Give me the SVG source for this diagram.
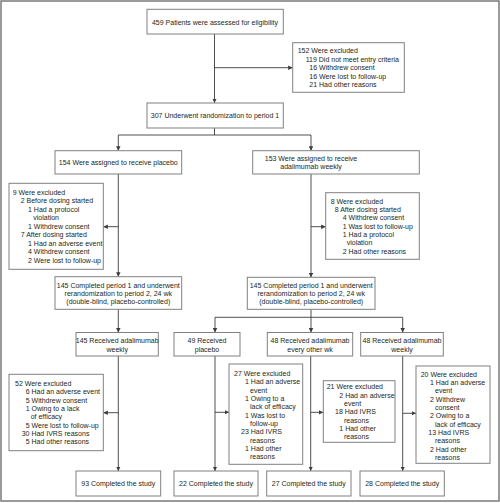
<svg xmlns="http://www.w3.org/2000/svg" width="500" height="503" viewBox="0 0 500 503">
<defs>
<style>
.box{fill:#fff;stroke:#808080;stroke-width:1}
.ln{fill:none;stroke:#3c3c3c;stroke-width:0.9}
text{font-family:"Liberation Sans",Arial,sans-serif;font-size:7px;fill:#231f20}
.c{text-anchor:middle}
</style>
<marker id="ah" viewBox="0 0 6 6" refX="6" refY="3" markerWidth="4.5" markerHeight="4.5" orient="auto" markerUnits="userSpaceOnUse">
<path d="M0,0 L6,3 L0,6 Z" fill="#3c3c3c"/>
</marker>
</defs>
<rect x="0" y="0" width="500" height="503" fill="#fff"/>
<rect x="1" y="1" width="498" height="500" fill="none" stroke="#7a7a7a" stroke-width="1.5"/>

<g id="connectors">
<line class="ln" x1="214.5" y1="34" x2="214.5" y2="103" marker-end="url(#ah)"/>
<line class="ln" x1="214.5" y1="67.7" x2="292.7" y2="67.7" marker-end="url(#ah)"/>
<polyline class="ln" points="214.5,128 214.5,135"/>
<line class="ln" x1="118.3" y1="135" x2="311" y2="135"/>
<line class="ln" x1="118.3" y1="135" x2="118.3" y2="150.7" marker-end="url(#ah)"/>
<line class="ln" x1="311" y1="135" x2="311" y2="150.7" marker-end="url(#ah)"/>
<line class="ln" x1="118.3" y1="174" x2="118.3" y2="276.7" marker-end="url(#ah)"/>
<line class="ln" x1="118.3" y1="226.7" x2="103.3" y2="226.7" marker-end="url(#ah)"/>
<line class="ln" x1="311" y1="174" x2="311" y2="277.3" marker-end="url(#ah)"/>
<line class="ln" x1="311" y1="226.7" x2="325.7" y2="226.7" marker-end="url(#ah)"/>
<line class="ln" x1="118.3" y1="309.3" x2="118.3" y2="332.5" marker-end="url(#ah)"/>
<line class="ln" x1="311" y1="309.3" x2="311" y2="317.3"/>
<line class="ln" x1="215" y1="317.3" x2="402.7" y2="317.3"/>
<line class="ln" x1="215" y1="317.3" x2="215" y2="332.5" marker-end="url(#ah)"/>
<line class="ln" x1="311" y1="317.3" x2="311" y2="332.5" marker-end="url(#ah)"/>
<line class="ln" x1="402.7" y1="317.3" x2="402.7" y2="332.5" marker-end="url(#ah)"/>
<line class="ln" x1="118.3" y1="356" x2="118.3" y2="471" marker-end="url(#ah)"/>
<line class="ln" x1="118.3" y1="412.7" x2="103.3" y2="412.7" marker-end="url(#ah)"/>
<line class="ln" x1="215" y1="356" x2="215" y2="471" marker-end="url(#ah)"/>
<line class="ln" x1="215" y1="412.3" x2="229" y2="412.3" marker-end="url(#ah)"/>
<line class="ln" x1="310.7" y1="356" x2="310.7" y2="471" marker-end="url(#ah)"/>
<line class="ln" x1="310.7" y1="412.3" x2="323.3" y2="412.3" marker-end="url(#ah)"/>
<line class="ln" x1="402.7" y1="356" x2="402.7" y2="471" marker-end="url(#ah)"/>
<line class="ln" x1="402.7" y1="413.3" x2="416" y2="413.3" marker-end="url(#ah)"/>
</g>

<g id="n-assessed">
<rect class="box" x="147" y="9.3" width="136.3" height="24.7"/>
<text class="c" x="215" y="25">459 Patients were assessed for eligibility</text>
</g>

<g id="n-excl1">
<rect class="box" x="292.7" y="42.7" width="111.6" height="49.6"/>
<text x="297.7" y="53.2">152 Were excluded</text>
<text x="305.7" y="61.8">119 Did not meet entry criteria</text>
<text x="309.3" y="70.2">16 Withdrew consent</text>
<text x="309.3" y="78.5">16 Were lost to follow-up</text>
<text x="309.3" y="86.8">21 Had other reasons</text>
</g>

<g id="n-rand">
<rect class="box" x="147" y="103" width="136.3" height="25"/>
<text class="c" x="215" y="117.8">307 Underwent randomization to period 1</text>
</g>

<g id="n-placebo">
<rect class="box" x="55" y="150.7" width="126.7" height="23.3"/>
<text class="c" x="118.3" y="165">154 Were assigned to receive placebo</text>
</g>

<g id="n-adaw">
<rect class="box" x="252.7" y="150.7" width="166.6" height="23.3"/>
<text class="c" x="311" y="160.8">153 Were assigned to receive</text>
<text class="c" x="311" y="169.2">adalimumab weekly</text>
</g>

<g id="n-excl-left1">
<rect class="box" x="9" y="183.3" width="94.3" height="86"/>
<text x="12.7" y="194.8">9 Were excluded</text>
<text x="20.7" y="203.3">2 Before dosing started</text>
<text x="28" y="211.8">1 Had a protocol</text>
<text x="33.3" y="220.3">violation</text>
<text x="28" y="228.8">1 Withdrew consent</text>
<text x="20.7" y="237.2">7 After dosing started</text>
<text x="28" y="245.7">1 Had an adverse event</text>
<text x="28" y="254.2">4 Withdrew consent</text>
<text x="28" y="262.6">2 Were lost to follow-up</text>
</g>

<g id="n-excl-right1">
<rect class="box" x="325.7" y="192.7" width="93.6" height="66.6"/>
<text x="330.7" y="203.5">8 Were excluded</text>
<text x="334.7" y="211.8">8 After dosing started</text>
<text x="342.7" y="220.2">4 Withdrew consent</text>
<text x="342.7" y="228.5">1 Was lost to follow-up</text>
<text x="342.7" y="236.8">1 Had a protocol</text>
<text x="346.7" y="245.2">violation</text>
<text x="342.7" y="253.5">2 Had other reasons</text>
</g>

<g id="n-comp-left">
<rect class="box" x="55" y="276.7" width="126.7" height="32.6"/>
<text class="c" x="118.3" y="287.5">145 Completed period 1 and underwent</text>
<text class="c" x="118.3" y="295.8">rerandomization to period 2, 24 wk</text>
<text class="c" x="118.3" y="304.2">(double-blind, placebo-controlled)</text>
</g>

<g id="n-comp-right">
<rect class="box" x="247.3" y="277.3" width="127.7" height="32"/>
<text class="c" x="311.2" y="287.5">145 Completed period 1 and underwent</text>
<text class="c" x="311.2" y="295.8">rerandomization to period 2, 24 wk</text>
<text class="c" x="311.2" y="304.2">(double-blind, placebo-controlled)</text>
</g>

<g id="n-recv-145">
<rect class="box" x="76" y="332.5" width="82.3" height="23.5"/>
<text class="c" x="117.2" y="343.2">145 Received adalimumab</text>
<text class="c" x="117.2" y="351.5">weekly</text>
</g>

<g id="n-recv-49">
<rect class="box" x="174" y="332.5" width="66" height="23.5"/>
<text class="c" x="207" y="343.2">49 Received</text>
<text class="c" x="207" y="351.5">placebo</text>
</g>

<g id="n-recv-48eow">
<rect class="box" x="267.3" y="332.5" width="85.4" height="23.5"/>
<text class="c" x="310" y="343.2">48 Received adalimumab</text>
<text class="c" x="310" y="351.5">every other wk</text>
</g>

<g id="n-recv-48w">
<rect class="box" x="360.7" y="332.5" width="82.6" height="23.5"/>
<text class="c" x="402" y="343.2">48 Received adalimumab</text>
<text class="c" x="402" y="351.5">weekly</text>
</g>

<g id="n-excl-52">
<rect class="box" x="9" y="374.3" width="94.3" height="76.4"/>
<text x="15" y="385.8">52 Were excluded</text>
<text x="25.7" y="394.2">6 Had an adverse event</text>
<text x="25.7" y="402.5">5 Withdrew consent</text>
<text x="25.7" y="410.8">1 Owing to a lack</text>
<text x="30.7" y="419.2">of efficacy</text>
<text x="25.7" y="427.5">5 Were lost to follow-up</text>
<text x="21.7" y="435.8">30 Had IVRS reasons</text>
<text x="25.7" y="444.2">5 Had other reasons</text>
</g>

<g id="n-excl-27">
<rect class="box" x="229" y="364" width="73.7" height="100.3"/>
<text x="234" y="375.8">27 Were excluded</text>
<text x="245" y="384.2">1 Had an adverse</text>
<text x="250" y="392.5">event</text>
<text x="245" y="400.8">1 Owing to a</text>
<text x="250" y="409.2">lack of efficacy</text>
<text x="245" y="417.5">1 Was lost to</text>
<text x="250" y="425.8">follow-up</text>
<text x="241" y="434.2">23 Had IVRS</text>
<text x="250" y="442.5">reasons</text>
<text x="245" y="450.8">1 Had other</text>
<text x="250" y="459.2">reasons</text>
</g>

<g id="n-excl-21">
<rect class="box" x="323.3" y="380.7" width="71.7" height="61.6"/>
<text x="326.7" y="389.2">21 Were excluded</text>
<text x="339.3" y="397.5">2 Had an adverse</text>
<text x="344" y="405.8">event</text>
<text x="335" y="414.2">18 Had IVRS</text>
<text x="344" y="422.5">reasons</text>
<text x="339.3" y="430.8">1 Had other</text>
<text x="344" y="439.2">reasons</text>
</g>

<g id="n-excl-20">
<rect class="box" x="416" y="366" width="74" height="97.3"/>
<text x="420.7" y="376.5">20 Were excluded</text>
<text x="430" y="384.8">1 Had an adverse</text>
<text x="435" y="393.2">event</text>
<text x="430" y="401.5">2 Withdrew</text>
<text x="435" y="409.8">consent</text>
<text x="430" y="418.2">2 Owing to a</text>
<text x="435" y="426.5">lack of efficacy</text>
<text x="428.3" y="434.8">13 Had IVRS</text>
<text x="435" y="443.2">reasons</text>
<text x="430" y="451.5">2 Had other</text>
<text x="435" y="459.8">reasons</text>
</g>

<g id="n-done-93">
<rect class="box" x="76" y="471" width="84.7" height="25"/>
<text class="c" x="118.3" y="485.8">93 Completed the study</text>
</g>
<g id="n-done-22">
<rect class="box" x="174" y="471" width="84" height="25"/>
<text class="c" x="216" y="485.8">22 Completed the study</text>
</g>
<g id="n-done-27">
<rect class="box" x="266.7" y="471" width="84.3" height="25"/>
<text class="c" x="308.8" y="485.8">27 Completed the study</text>
</g>
<g id="n-done-28">
<rect class="box" x="360" y="471" width="84.3" height="25"/>
<text class="c" x="402.2" y="485.8">28 Completed the study</text>
</g>
</svg>
